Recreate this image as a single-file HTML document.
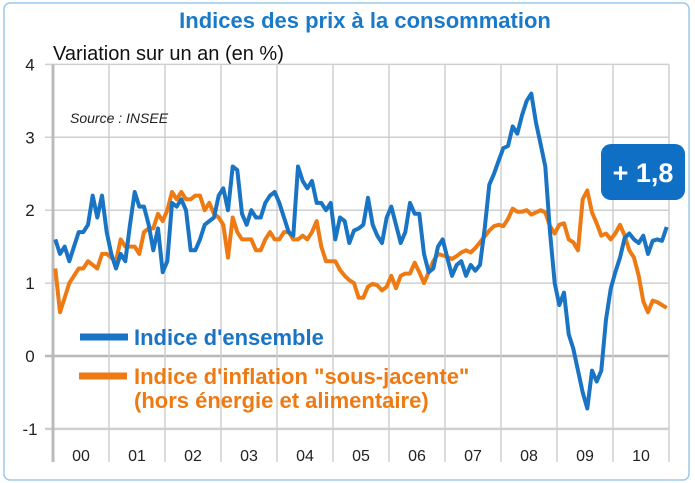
<!DOCTYPE html>
<html><head><meta charset="utf-8">
<style>
body{margin:0;background:#fff;}
svg{display:block;font-family:"Liberation Sans",sans-serif;}
</style></head>
<body>
<svg width="695" height="483" viewBox="0 0 695 483">
<rect x="4" y="3" width="685" height="477" rx="6" fill="#fff" stroke="#9cc8ea" stroke-width="1.5"/>
<text x="365" y="28" text-anchor="middle" font-size="22" font-weight="bold" fill="#1a7ac8">Indices des prix à la consommation</text>
<text x="53" y="60" font-size="20" fill="#111">Variation sur un an (en %)</text>
<g id="grid"></g>
<g id="yticks"></g>
<g id="xticks"></g>
<text x="70" y="123" font-size="14" font-style="italic" fill="#222">Source : INSEE</text>
<g id="series"></g>
<g>
<line x1="80" y1="337" x2="128" y2="337" stroke="#1a74c4" stroke-width="7"/>
<text x="134" y="345" font-size="22" font-weight="bold" fill="#1a74c4">Indice d'ensemble</text>
<line x1="79" y1="376" x2="127" y2="376" stroke="#ee7a14" stroke-width="7"/>
<text x="134" y="384" font-size="22" font-weight="bold" fill="#ee7a14">Indice d'inflation "sous-jacente"</text>
<text x="134" y="408" font-size="22" font-weight="bold" fill="#ee7a14">(hors énergie et alimentaire)</text>
</g>
<g>
<rect x="601" y="144" width="84" height="56" rx="10" fill="#0f6fc4"/>
<text x="643" y="182" text-anchor="middle" font-size="27" font-weight="bold" fill="#fff">+ 1,8</text>
</g>
</svg>
<script>
const years=["00","01","02","03","04","05","06","07","08","09","10"];
const yTicks=[4,3,2,1,0,-1];
const ensemble=[1.6,1.4,1.5,1.3,1.5,1.7,1.7,1.8,2.2,1.9,2.2,1.7,
1.4,1.2,1.4,1.3,1.8,2.25,2.05,2.05,1.8,1.45,1.75,1.15,
1.3,2.1,2.05,2.15,2.0,1.45,1.45,1.6,1.8,1.85,1.9,2.2,
2.3,2.0,2.6,2.55,1.95,1.8,2.0,1.9,1.9,2.1,2.2,2.25,
2.1,1.9,1.7,1.65,2.6,2.4,2.3,2.4,2.1,2.1,2.0,2.1,
1.6,1.9,1.85,1.55,1.72,1.75,1.8,2.17,1.8,1.65,1.55,1.9,
2.05,1.8,1.55,1.7,2.1,1.95,1.95,1.4,1.15,1.2,1.5,1.6,
1.35,1.1,1.25,1.3,1.1,1.25,1.17,1.25,1.75,2.35,2.5,2.68,
2.85,2.88,3.15,3.05,3.3,3.5,3.6,3.2,2.9,2.6,1.7,1.0,
0.7,0.87,0.3,0.1,-0.2,-0.5,-0.72,-0.2,-0.35,-0.2,0.5,0.92,
1.15,1.35,1.62,1.68,1.6,1.55,1.65,1.4,1.58,1.6,1.58,1.77];
const sousJacente=[1.2,0.6,0.8,1.0,1.1,1.2,1.2,1.3,1.25,1.2,1.4,1.4,
1.35,1.3,1.6,1.5,1.5,1.5,1.4,1.7,1.75,1.75,1.95,1.85,
2.0,2.25,2.15,2.25,2.15,2.15,2.2,2.2,2.0,2.1,1.95,1.9,
1.8,1.35,1.9,1.7,1.6,1.6,1.6,1.45,1.45,1.6,1.7,1.6,
1.6,1.7,1.7,1.6,1.6,1.65,1.6,1.7,1.85,1.5,1.3,1.3,
1.3,1.18,1.1,1.04,1.0,0.8,0.8,0.95,0.99,0.97,0.9,0.95,
1.1,0.93,1.1,1.13,1.13,1.28,1.15,1.0,1.15,1.3,1.4,1.38,
1.36,1.33,1.37,1.42,1.45,1.42,1.48,1.56,1.64,1.72,1.78,1.8,
1.78,1.88,2.02,1.98,1.98,2.0,1.94,1.97,2.0,1.97,1.78,1.68,
1.8,1.82,1.6,1.56,1.45,2.15,2.27,1.97,1.82,1.65,1.68,1.6,
1.68,1.8,1.65,1.45,1.35,1.1,0.75,0.6,0.76,0.74,0.7,0.66];
const NS="http://www.w3.org/2000/svg";
const X0=53,X1=669,Y0=356,PU=72.9;
const yw=(X1-X0)/years.length;
function xScale(i){return X0+(i+0.5)*yw/12;}
function yScale(v){return Y0-v*PU;}
function mk(tag,attrs,parent){const e=document.createElementNS(NS,tag);for(const k in attrs)e.setAttribute(k,attrs[k]);parent.appendChild(e);return e;}
const grid=document.getElementById('grid'),yt=document.getElementById('yticks'),xt=document.getElementById('xticks'),ser=document.getElementById('series');
yTicks.forEach(v=>{
 const l=mk('line',{x1:X0-8,x2:X1,y1:yScale(v),y2:yScale(v),stroke:v===0?'#b8b8b8':'#cfcfcf','stroke-width':v===0||v===-1?2.5:1.5},grid);
 
 
 const t=mk('text',{x:30,y:yScale(v)+6,'text-anchor':'middle','font-size':17,fill:'#222'},yt);
 t.textContent=String(v);
 
 
});
for(let k=0;k<=years.length;k++){
 const x=X0+k*yw;
 const l=mk('line',{x1:x,x2:x,y1:yScale(4),y2:462,stroke:k===0?'#bbb':'#cfcfcf','stroke-width':k===0?3:1.5},grid);
 
 
}
years.forEach((y,k)=>{
 const t=mk('text',{x:X0+(k+0.5)*yw,y:461,'text-anchor':'middle','font-size':16,fill:'#222'},xt);
 t.textContent=y;
 
 
});
function line(arr,color,name){
 const d=arr.map((v,i)=>(i?'L':'M')+xScale(i).toFixed(1)+' '+yScale(v).toFixed(1)).join(' ');
 const p=mk('path',{d:d,fill:'none',stroke:color,'stroke-width':4,'stroke-linejoin':'round'},ser);
 
 
}
line(sousJacente,'#ee7a14','line-sous-jacente');
line(ensemble,'#1a74c4','line-ensemble');
</script>
</body></html>
